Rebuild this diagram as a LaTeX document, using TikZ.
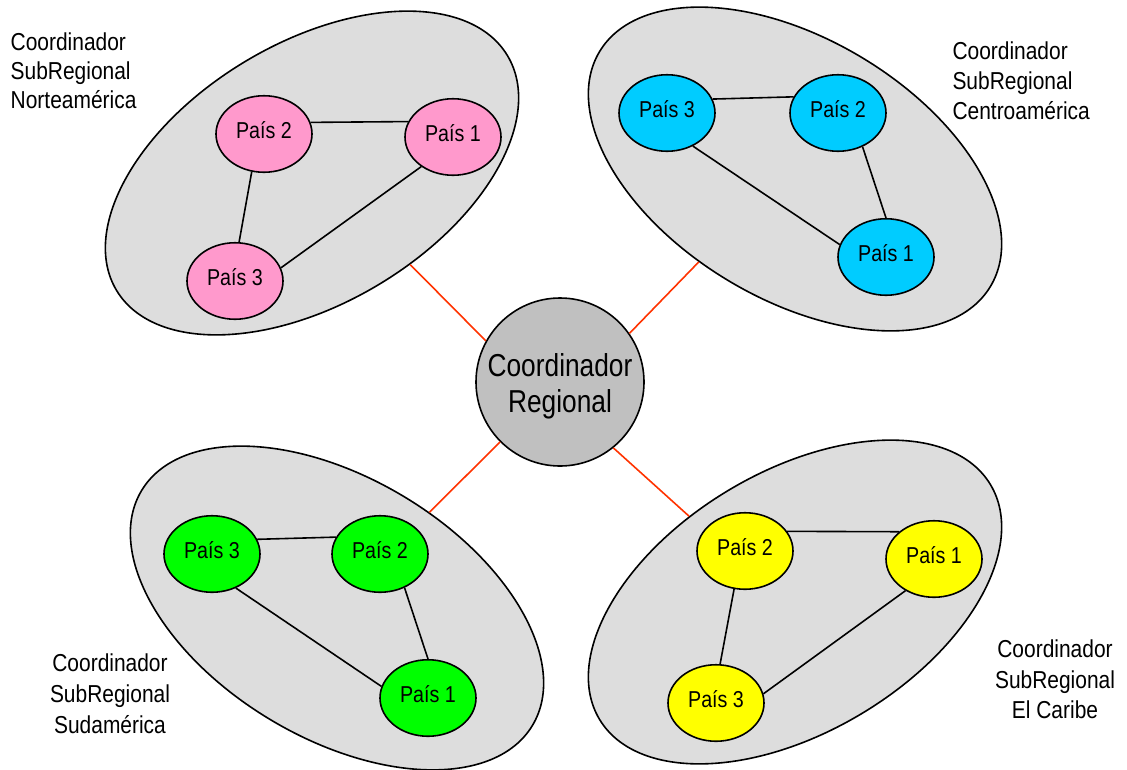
\documentclass[tikz,border=0pt]{standalone}
\usepackage{fontspec}
\setmainfont{Liberation Sans}
\newfontfamily\labelfont{Liberation Sans}[FakeStretch=0.855]
\newfontfamily\narrowfont{Liberation Sans}[FakeStretch=0.83]
\usetikzlibrary{shapes.geometric}
\definecolor{regbg}{HTML}{DDDDDD}
\definecolor{centerbg}{HTML}{C0C0C0}
\definecolor{redline}{HTML}{FF3300}
\definecolor{pink}{HTML}{FF99CC}
\definecolor{cyanc}{HTML}{00CCFF}
\definecolor{greenc}{HTML}{00FF00}
\definecolor{yellowc}{HTML}{FFFF00}
\begin{document}
\begin{tikzpicture}[x=1pt,y=-1pt,
  region/.style={ellipse, draw=black, line width=1.6pt, fill=regbg, minimum width=456pt, minimum height=260pt, inner sep=0pt},
  pais/.style={ellipse, draw=black, line width=1.6pt, minimum width=96pt, minimum height=76.5pt, inner sep=0pt, font=\labelfont\fontsize{23}{27}\selectfont, text height=16pt, text depth=8pt},
  link/.style={line width=1.6pt, draw=black},
  redlink/.style={line width=1.6pt, draw=redline},
  sublabel/.style={inner sep=0pt}
]
\useasboundingbox (0,0) rectangle (1127,769);

% regional ellipses
\node[region, rotate=31]  (na) at (312,173) {};
\node[region, rotate=-31] (ca) at (795,169) {};
\node[region, rotate=-31] (sa) at (337,608) {};
\node[region, rotate=31]  (cb) at (795,602) {};

% countries
\node[pais, fill=pink] (na2) at (264,134) {País 2};
\node[pais, fill=pink] (na1) at (453,137) {País 1};
\node[pais, fill=pink] (na3) at (235,281) {País 3};

\node[pais, fill=cyanc] (ca3) at (667,113) {País 3};
\node[pais, fill=cyanc] (ca2) at (838,113) {País 2};
\node[pais, fill=cyanc] (ca1) at (886,257) {País 1};

\node[pais, fill=greenc] (sa3) at (212,554) {País 3};
\node[pais, fill=greenc] (sa2) at (380,554) {País 2};
\node[pais, fill=greenc] (sa1) at (428,698) {País 1};

\node[pais, fill=yellowc] (cb2) at (745,551) {País 2};
\node[pais, fill=yellowc] (cb1) at (934,559) {País 1};
\node[pais, fill=yellowc] (cb3) at (716,703) {País 3};

% links inside regions
\draw[link] (na2.14) -- (na1.161);
\draw[link] (na2.252) -- (na3.84);
\draw[link] (na1.223) -- (na3.16);

\draw[link] (ca3.17) -- (ca2.160);
\draw[link] (ca2.306) -- (ca1.90);
\draw[link] (ca3.308) -- (ca1.165);

\draw[link] (sa3.18) -- (sa2.159);
\draw[link] (sa2.306) -- (sa1.90);
\draw[link] (sa3.305) -- (sa1.166);

\draw[link] (cb2.25) -- (cb1.142);
\draw[link] (cb2.254) -- (cb3.84);
\draw[link] (cb1.228) -- (cb3.11);

% regional coordinator
\node[circle, draw=black, line width=1.6pt, fill=centerbg, minimum size=168pt, inner sep=0pt, align=center, font=\narrowfont\fontsize{31.7}{36}\selectfont] (rc) at (560,382) {\rule{0pt}{30.7pt}Coordinador\\Regional};

\draw[redlink] (rc.151) -- (na.-74);
\draw[redlink] (rc.35) -- (ca.255);
\draw[redlink] (rc.225) -- (sa.77);
\draw[redlink] (rc.-51) -- (cb.110);

% labels
\node[sublabel, anchor=north west, align=left, font=\labelfont\fontsize{24.5}{29.3}\selectfont] (lna) at (10.5,32.2) {Coordinador\\SubRegional\\Norteamérica};
\node[sublabel, anchor=north west, align=left, font=\labelfont\fontsize{24.5}{30}\selectfont] (lca) at (952.3,41.5) {Coordinador\\SubRegional\\Centroamérica};
\node[sublabel, anchor=north, align=center, font=\labelfont\fontsize{24.5}{31}\selectfont] (lsa) at (110,653.9) {Coordinador\\SubRegional\\Sudamérica};
\node[sublabel, anchor=north, align=center, font=\labelfont\fontsize{24.5}{30.3}\selectfont] (lcb) at (1055,639.9) {Coordinador\\SubRegional\\El Caribe};
\end{tikzpicture}
\end{document}
